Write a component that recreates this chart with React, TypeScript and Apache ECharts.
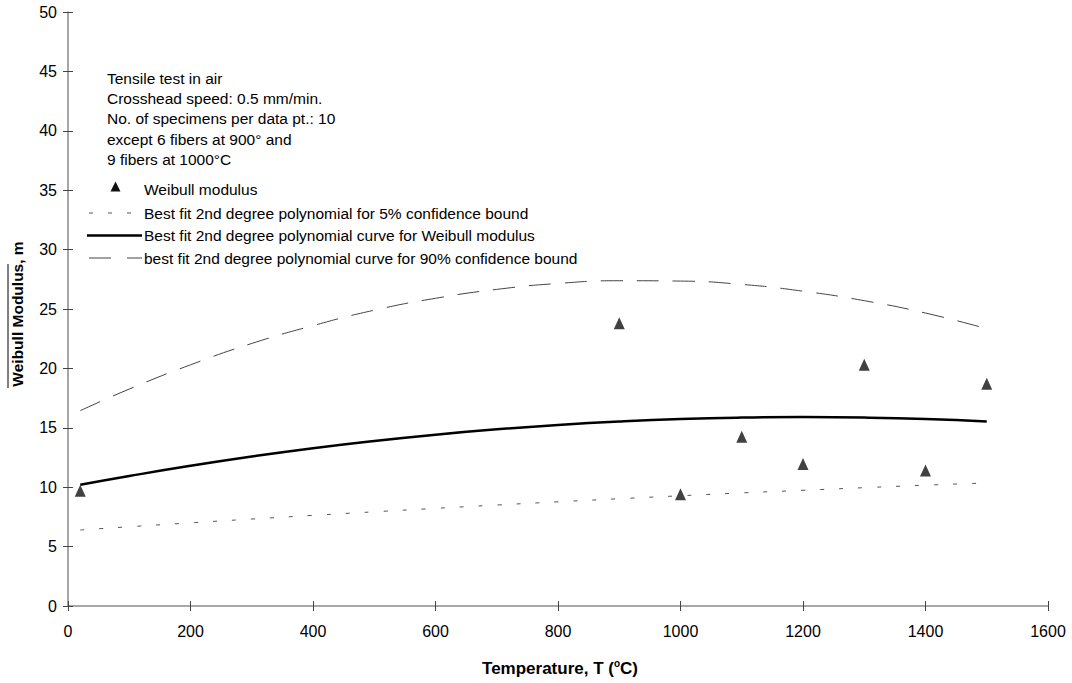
import React, { useEffect, useRef } from "react";
import * as echarts from "echarts";

// Temperatures (°C) at which fitted curves were read
const curveTemps = [20, 100, 200, 300, 400, 500, 600, 700, 800, 900, 1000, 1100, 1200, 1300, 1400, 1500];
// Best fit curve for Weibull modulus
const fitWeibull = [10.2, 10.94, 11.8, 12.58, 13.28, 13.89, 14.42, 14.87, 15.24, 15.53, 15.74, 15.86, 15.9, 15.86, 15.74, 15.53];
// Best fit for 5% confidence bound
const fit5 = [6.4, 6.67, 7.0, 7.32, 7.63, 7.93, 8.22, 8.5, 8.77, 9.03, 9.28, 9.52, 9.74, 9.96, 10.17, 10.36];
// Best fit for 90% confidence bound
const fit90 = [16.44, 18.26, 20.3, 22.1, 23.6, 24.9, 25.9, 26.65, 27.15, 27.38, 27.35, 27.07, 26.5, 25.7, 24.66, 23.34];

// Measured Weibull modulus
const testTemps = [20, 900, 1000, 1100, 1200, 1300, 1400, 1500];
const weibullM = [9.7, 23.8, 9.4, 14.25, 11.95, 20.3, 11.4, 18.7];

const xTicks = { min: 0, max: 1600, interval: 200 };
const yTicks = { min: 0, max: 50, interval: 5 };

const seriesNames = [
  "Weibull modulus",
  "Best fit 2nd degree polynomial for 5% confidence bound",
  "Best fit 2nd degree polynomial curve for Weibull modulus",
  "best fit 2nd degree polynomial curve for 90% confidence bound",
];

const noteLines = [
  "Tensile test in air",
  "Crosshead speed: 0.5 mm/min.",
  "No. of specimens per data pt.: 10",
  "except 6 fibers at 900° and",
  "9 fibers at 1000°C",
];

const FONT = '"Liberation Sans", Arial, Helvetica, sans-serif';

const styles = {
  tri: { color: "#111111" },
  fit5: { color: "#555", width: 1, dash: [4, 15] },
  fitW: { color: "#000", width: 2.5 },
  fit90: { color: "#444", width: 1, dash: [22, 14] },
};

export default function App() {
  const ref = useRef<HTMLDivElement>(null);
  useEffect(() => {
    if (!ref.current) return;
    const chart = echarts.init(ref.current, null, { renderer: "svg" });
    const pair = (xs: number[], ys: number[]) => xs.map((x, i) => [x, ys[i]]);
    const axisGray = "#8a8a8a";
    const legendRows = [189, 213, 235.5, 258];
    const legX0 = 89;
    const legX1 = 142;
    const legText = 144;
    const legend: any[] = [
      {
        type: "polygon",
        shape: { points: [[115.5, 181.5], [110.5, 191.5], [120.5, 191.5]] },
        style: { fill: styles.tri.color },
      },
      {
        type: "line",
        shape: { x1: legX0, y1: legendRows[1], x2: legX1 - 8, y2: legendRows[1] },
        style: { stroke: styles.fit5.color, lineWidth: 1, lineDash: [4, 15] },
      },
      {
        type: "line",
        shape: { x1: legX0 - 2, y1: legendRows[2], x2: legX1, y2: legendRows[2] },
        style: { stroke: styles.fitW.color, lineWidth: 2.5 },
      },
      {
        type: "line",
        shape: { x1: legX0, y1: legendRows[3], x2: legX1, y2: legendRows[3] },
        style: { stroke: styles.fit90.color, lineWidth: 1, lineDash: [22, 16] },
      },
      ...seriesNames.map((n, i) => ({
        type: "text",
        x: legText,
        y: legendRows[i],
        style: { text: n, fill: "#000", font: `15.5px ${FONT}`, verticalAlign: "middle" },
      })),
    ];
    chart.setOption({
      animation: false,
      backgroundColor: "#ffffff",
      grid: { left: 68, right: 24, top: 12, bottom: 77 },
      xAxis: [
        {
          type: "value",
          ...xTicks,
          position: "bottom",
          axisLine: { onZero: false, lineStyle: { color: axisGray, width: 1.5 } },
          axisTick: { length: 5, lineStyle: { color: "#444" } },
          axisLabel: {
            color: "#000",
            fontSize: 16,
            fontFamily: FONT,
            margin: 17,
            formatter: (v: number) => String(v),
          },
          splitLine: { show: false },
        },
        {
          type: "value",
          ...xTicks,
          position: "bottom",
          offset: 0,
          axisLine: { show: false },
          axisTick: { inside: true, length: 5, lineStyle: { color: "#444" } },
          axisLabel: { show: false },
          splitLine: { show: false },
        },
      ],
      yAxis: [
        {
          type: "value",
          ...yTicks,
          position: "left",
          axisLine: { show: true, onZero: false, lineStyle: { color: axisGray, width: 1.5 } },
          axisTick: { show: true, length: 5, lineStyle: { color: "#444" } },
          axisLabel: { color: "#000", fontSize: 16, fontFamily: FONT, margin: 11 },
          splitLine: { show: false },
        },
        {
          type: "value",
          ...yTicks,
          position: "left",
          offset: 0,
          axisLine: { show: false },
          axisTick: { show: true, inside: true, length: 5, lineStyle: { color: "#444" } },
          axisLabel: { show: false },
          splitLine: { show: false },
        },
      ],
      series: [
        {
          name: seriesNames[0],
          type: "scatter",
          symbol: "triangle",
          symbolSize: [11, 12],
          itemStyle: { color: styles.tri.color },
          data: pair(testTemps, weibullM),
          z: 5,
        },
        {
          name: seriesNames[1],
          type: "line",
          symbol: "none",
          smooth: true,
          lineStyle: { color: styles.fit5.color, width: 1, type: styles.fit5.dash },
          data: pair(curveTemps, fit5),
        },
        {
          name: seriesNames[2],
          type: "line",
          symbol: "none",
          smooth: true,
          lineStyle: { color: styles.fitW.color, width: styles.fitW.width, type: "solid" },
          data: pair(curveTemps, fitWeibull),
        },
        {
          name: seriesNames[3],
          type: "line",
          symbol: "none",
          smooth: true,
          lineStyle: { color: styles.fit90.color, width: 1, type: styles.fit90.dash },
          data: pair(curveTemps, fit90),
        },
      ],
      graphic: [
        {
          type: "text",
          left: 107,
          top: 68,
          style: {
            text: noteLines.join("\n"),
            fill: "#000",
            font: `15.5px ${FONT}`,
            lineHeight: 20.3,
          },
        },
        ...legend,
        {
          type: "text",
          x: 560,
          y: 668,
          style: {
            text: "{a|Temperature, T (}{s|o}{a|C)}",
            align: "center",
            verticalAlign: "middle",
            rich: {
              a: { fontSize: 17, fontWeight: "bold", fontFamily: FONT, color: "#000" },
              s: { fontSize: 10, fontWeight: "bold", fontFamily: FONT, color: "#000", verticalAlign: "top", padding: [0, 0, 9, 0] },
            },
          },
        },
        {
          type: "text",
          x: 17,
          y: 314,
          rotation: Math.PI / 2,
          style: {
            text: "Weibull Modulus, m",
            align: "center",
            verticalAlign: "middle",
            font: `bold 15.5px ${FONT}`,
            fill: "#000",
          },
        },
        {
          type: "line",
          shape: { x1: 8, y1: 388, x2: 8, y2: 264 },
          style: { stroke: "#000", lineWidth: 1 },
        },
      ],
    });
    return () => chart.dispose();
  }, []);
  return (
    <div
      ref={ref}
      style={{ position: "absolute", left: 0, top: 0, width: 1072, height: 683 }}
    />
  );
}
